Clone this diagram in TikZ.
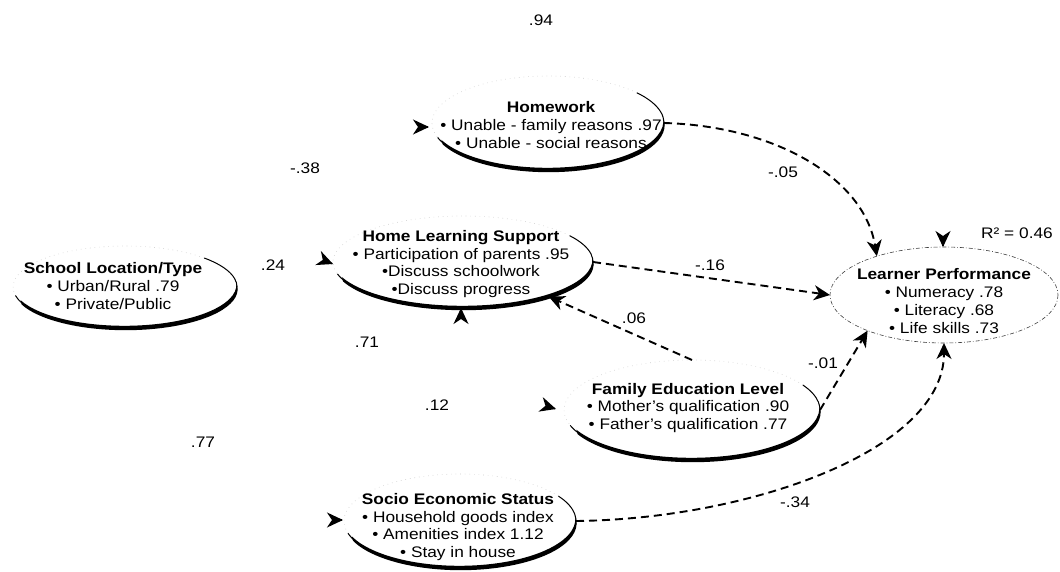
\documentclass[tikz,border=0pt]{standalone}
\usepackage{fontspec}
\setmainfont{Liberation Sans}[FakeStretch=1.13]
\usetikzlibrary{arrows.meta,shapes.geometric,calc}
\newcommand{\exo}[9]{%
 \draw[line width=1pt] (#1,#2) ++(#5:#3 and #4) arc[start angle=#5,end angle=#8,x radius=#3,y radius=#4];
 \fill (#1+0.6,#2+2.2) ++(#6:#3 and #4) arc[start angle=#6,end angle=#7,x radius=#3,y radius=#4] -- ++(-1.2,-4.4) arc[start angle=#7,end angle=#6,x radius=#3,y radius=#4] -- cycle;
 \draw[faint] (#1,#2) ++(#8:#3 and #4) arc[start angle=#8,end angle=#9,x radius=#3,y radius=#4];
}
\begin{document}
\begin{tikzpicture}[x=1pt,y=-1pt,
  oval/.style={ellipse, draw=none, inner sep=0pt, outer sep=0pt},
  txt/.style={align=center, font=\fontsize{15.3}{17.8}\selectfont, inner sep=0pt},
  num/.style={font=\fontsize{15.3}{17}\selectfont, inner sep=0pt},
  faint/.style={line width=0.6pt, gray!40, loosely dotted},
  effect/.style={line width=1.9pt, dash pattern=on 8pt off 5pt, -{Stealth[length=16pt,width=15pt,inset=5pt]}},
  tiponly/.style={line width=1.4pt, -{Stealth[length=16pt,width=15pt,inset=5pt]}},
]
\fill[white] (0,0) rectangle (1060,572);
\useasboundingbox (0,0) rectangle (1060,572);

% ellipse anchors
\node[oval, minimum width=224pt, minimum height=82pt] (slt) at (125,287) {};
\node[oval, minimum width=232pt, minimum height=94pt] (hw) at (548,123) {};
\node[oval, minimum width=260pt, minimum height=92pt] (hls) at (463,262) {};
\node[oval, minimum width=256pt, minimum height=100pt] (fel) at (692,410) {};
\node[oval, minimum width=232pt, minimum height=94pt] (ses) at (460,521) {};
\node[oval, minimum width=228pt, minimum height=96pt] (lp) at (944,295) {};

% ellipse outlines
\exo{125}{287}{112}{41}{168}{158}{-8}{-45}{-192}
\exo{548}{123}{116}{47}{162}{156}{-10}{-40}{-198}
\exo{463}{262}{130}{46}{165}{158}{-8}{-35}{-195}
\exo{692}{410}{128}{50}{162}{154}{-5}{-30}{-198}
\exo{460}{521}{116}{47}{165}{158}{-8}{-32}{-195}
\draw[line width=0.6pt, black!75, dash pattern=on 4pt off 2pt on 0.8pt off 2pt] (lp) ellipse[x radius=114, y radius=48];

% texts
\node[txt] (sltt) at (113,286) {\textbf{School Location/Type}\\• Urban/Rural .79\\• Private/Public};
\node[txt] (hwt) at (551,125) {\textbf{Homework}\\• Unable - family reasons .97\\• Unable - social reasons};
\node[txt] (hlst) at (461,264) {\textbf{Home Learning Support}\\• Participation of parents .95\\•Discuss schoolwork\\•Discuss progress};
\node[txt] (felt) at (688,408) {\textbf{Family Education Level}\\• Mother's qualification .90\\• Father's qualification .77};
\node[txt] (sest) at (458,527) {\textbf{Socio Economic Status}\\• Household goods index\\• Amenities index 1.12\\• Stay in house};
\node[txt] (lpt) at (944,301) {\textbf{Learner Performance}\\• Numeracy .78\\• Literacy .68\\• Life skills .73};

% structural paths
\draw[effect] (hw.east) .. controls (775,126) and (864,178) .. (lp.150);
\draw[effect] (hls.east) -- (lp.west);
\draw[effect] (fel.north) -- (hls.-22);
\draw[effect] (fel.east) -- (lp.205);
\draw[effect] (ses.east) .. controls (750,519) and (944,450) .. (lp.south);

% arrowheads whose lines are not printed
\coordinate (hwin) at (429,127);
\coordinate (hlsin) at (333,264);
\coordinate (hlsup) at (461,308);
\coordinate (felin) at (556,409);
\coordinate (sesin) at (343,520);
\coordinate (lpdown) at (943,247);
\draw[tiponly] ($(hwin)+(-1,0)$) -- (hwin);
\draw[tiponly] ($(hlsin)+(-1,-0.4)$) -- (hlsin);
\draw[tiponly] ($(hlsup)+(0,1)$) -- (hlsup);
\draw[tiponly] ($(felin)+(-1,-0.3)$) -- (felin);
\draw[tiponly] ($(sesin)+(-1,0)$) -- (sesin);
\draw[tiponly] ($(lpdown)+(0,-1)$) -- (lpdown);

% coefficients
\node[num] (c94) at (541,20) {.94};
\node[num] (c38) at (305,168) {-.38};
\node[num] (c24) at (273,265) {.24};
\node[num] (c71) at (367,342) {.71};
\node[num] (c12) at (437,405) {.12};
\node[num] (c77) at (203,442) {.77};
\node[num] (c05) at (783,172) {-.05};
\node[num] (c16) at (710,265) {-.16};
\node[num] (c06) at (634,318) {.06};
\node[num] (c01) at (823,363) {-.01};
\node[num] (c34) at (795,502) {-.34};
\node[num] (r2) at (1017,233) {R² = 0.46};
\end{tikzpicture}
\end{document}
